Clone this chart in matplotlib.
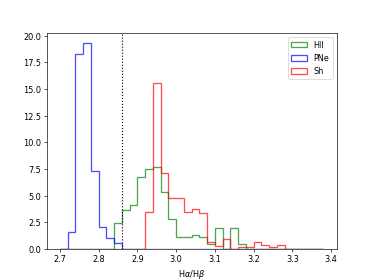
import numpy as np
import matplotlib
matplotlib.use("Agg")
import matplotlib.pyplot as plt

edges = np.linspace(2.70, 3.38, 35)

hii = [0, 0, 0, 0, 0, 0, 0,
       2.43, 3.68, 4.14, 6.74, 7.49, 7.74, 5.39, 2.80, 1.18, 1.11, 1.30, 1.11,
       0.46, 1.96, 0.0, 1.96, 0.46,
       0, 0, 0, 0, 0, 0, 0, 0, 0, 0]
pne = [0, 1.59, 18.25, 19.28, 7.31, 2.09, 1.06, 0.53] + [0] * 26
sh = [0] * 11 + [3.46, 15.55, 7.17, 4.77, 4.77, 3.52, 3.74, 3.42, 0.71, 0.33,
                 0.99, 0.0, 0.17, 0.17, 0.68, 0.39, 0.24, 0.39] + [0] * 5

series = [("HII", hii, "green"), ("PNe", pne, "blue"), ("Sh", sh, "red")]
threshold = 2.86

fig, ax = plt.subplots(figsize=(6.4, 4.8), dpi=374 / 6.4)
centers = (edges[:-1] + edges[1:]) / 2
for label, vals, color in series:
    ax.hist(centers, bins=edges, weights=vals, histtype="step",
            color=color, alpha=0.7, lw=1.6, label=label)
ax.axvline(threshold, color="k", ls=":", lw=1.4)
ax.set_xlabel(r"H$\alpha$/H$\beta$")
ax.legend(loc="upper right")
fig.savefig("out.png", dpi=374 / 6.4)
